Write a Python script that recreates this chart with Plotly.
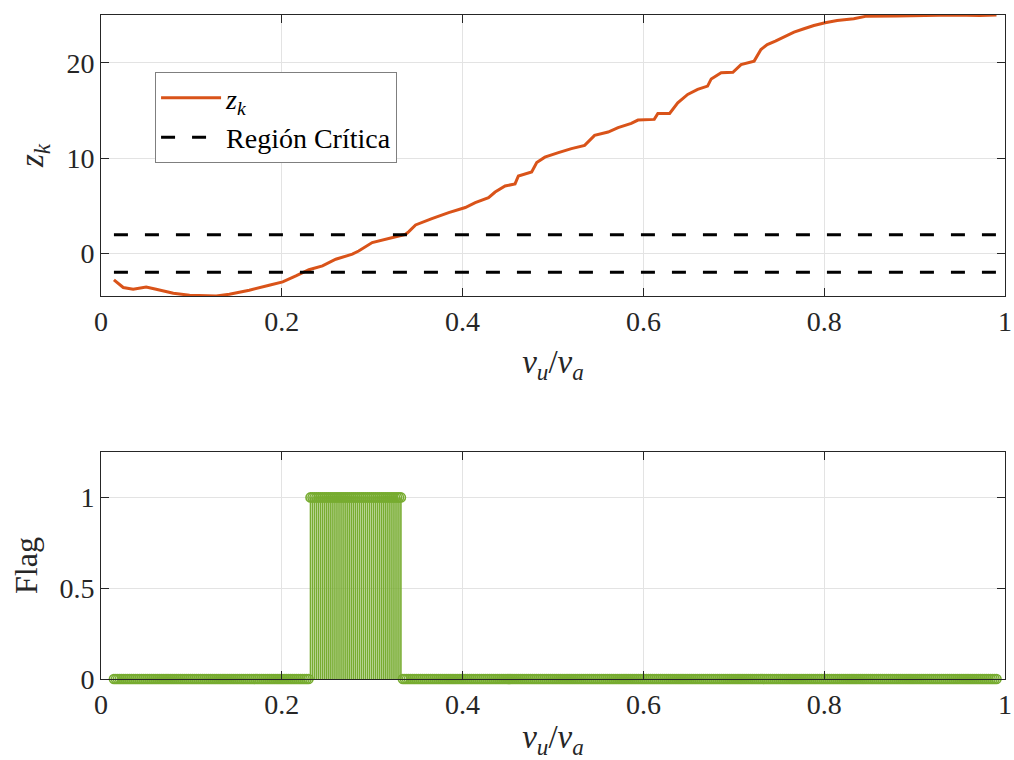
import numpy as np
import plotly.graph_objects as go
from plotly.subplots import make_subplots

# ---- data ----
zk_x = [0.0143, 0.0246, 0.0356, 0.050, 0.061, 0.080, 0.098, 0.116, 0.1275, 0.142,
        0.164, 0.186, 0.201, 0.2156, 0.230, 0.245, 0.2597, 0.278, 0.285, 0.300,
        0.3185, 0.337, 0.3405, 0.348, 0.366, 0.3846, 0.403, 0.414, 0.4287, 0.436,
        0.447, 0.458, 0.4617, 0.4764, 0.482, 0.491, 0.506, 0.5204, 0.535, 0.546,
        0.561, 0.572, 0.5866, 0.594, 0.612, 0.616, 0.629, 0.638, 0.649, 0.660,
        0.671, 0.675, 0.686, 0.699, 0.708, 0.7225, 0.730, 0.737, 0.746, 0.7556,
        0.7666, 0.7776, 0.7886, 0.801, 0.8143, 0.8327, 0.847, 0.880, 0.917, 0.943,
        0.972, 0.9906]
zk_y = [-2.76, -3.56, -3.74, -3.50, -3.74, -4.16, -4.37, -4.45, -4.45, -4.26,
        -3.84, -3.32, -2.97, -2.35, -1.70, -1.30, -0.60, -0.07, 0.27, 1.15,
        1.57, 2.02, 2.30, 3.00, 3.66, 4.29, 4.82, 5.34, 5.86, 6.45,
        7.08, 7.30, 8.13, 8.55, 9.53, 10.10, 10.57, 11.00, 11.34, 12.39,
        12.73, 13.19, 13.64, 13.99, 14.06, 14.69, 14.69, 15.80, 16.68, 17.20,
        17.55, 18.30, 18.95, 19.00, 19.80, 20.17, 21.39, 21.90, 22.26, 22.72,
        23.20, 23.56, 23.90, 24.19, 24.43, 24.60, 24.88, 24.90, 24.95, 25.00,
        24.95, 25.00]

critical_level = 1.96
x_start, x_end = 0.0143, 0.9906

# sampling grid of the Flag stem plot
n_samples = 450
flag_on_start, flag_on_end = 0.2303, 0.333

x_ticks = [0, 0.2, 0.4, 0.6, 0.8, 1]
x_tick_labels = ["0", "0.2", "0.4", "0.6", "0.8", "1"]
top_y_ticks = [0, 10, 20]
bot_y_ticks = [0, 0.5, 1]
bot_y_tick_labels = ["0", "0.5", "1"]

# ---- derived ----
flag_x = np.linspace(x_start, x_end, n_samples)
flag_y = np.where((flag_x >= flag_on_start) & (flag_x <= flag_on_end), 1.0, 0.0)

ORANGE = "#D95319"
GREEN = "#77AC30"
FONT = "Liberation Serif"
GRID = "#e3e3e3"
AXC = "#262626"

fig = make_subplots(rows=2, cols=1, vertical_spacing=0.0)

fig.add_trace(go.Scatter(x=zk_x, y=zk_y, mode="lines",
                         line=dict(color=ORANGE, width=3),
                         name="<i>z</i><sub><i>k</i></sub>"), row=1, col=1)
fig.add_trace(go.Scatter(x=[x_start, x_end, None, x_start, x_end],
                         y=[critical_level, critical_level, None, -critical_level, -critical_level],
                         mode="lines",
                         line=dict(color="black", width=3, dash="14px,17px"),
                         name="Región Crítica"), row=1, col=1)

# stems
sx, sy = [], []
for xv, yv in zip(flag_x, flag_y):
    sx += [xv, xv, None]
    sy += [0, yv, None]
fig.add_trace(go.Scatter(x=sx, y=sy, mode="lines", line=dict(color=GREEN, width=1.6),
                         showlegend=False, hoverinfo="skip"), row=2, col=1)
fig.add_trace(go.Scatter(x=flag_x, y=flag_y, mode="markers",
                         marker=dict(symbol="circle-open", size=9, color=GREEN,
                                     line=dict(width=1.6, color=GREEN)),
                         cliponaxis=False, showlegend=False), row=2, col=1)

axis_common = dict(showline=True, linecolor=AXC, linewidth=1, mirror="ticks",
                   ticks="inside", ticklen=8, tickcolor=AXC,
                   showgrid=True, gridcolor=GRID, gridwidth=1, zeroline=False,
                   ticklabeloverflow="allow", automargin=False,
                   tickfont=dict(family=FONT, size=28, color="#262626"))

xtitle = dict(text="<i>v</i><sub><i>u</i></sub>/<i>v</i><sub><i>a</i></sub>",
              font=dict(family=FONT, size=33, color="#262626"), standoff=14)

fig.update_xaxes(range=[0, 1], tickvals=x_ticks, ticktext=x_tick_labels, title=xtitle,
                 **axis_common)
fig.update_yaxes(**axis_common)
fig.update_yaxes(range=[-4.45, 25], tickvals=top_y_ticks,
                 title=dict(text="<i>z</i><sub><i>k</i></sub>",
                            font=dict(family=FONT, size=33, color="#262626"), standoff=12),
                 domain=[0.5768, 1.0], row=1, col=1)
fig.update_yaxes(range=[0, 1.25], tickvals=bot_y_ticks, ticktext=bot_y_tick_labels,
                 title=dict(text="Flag", font=dict(family=FONT, size=32, color="#262626"),
                            standoff=12),
                 domain=[0.0, 0.3419], row=2, col=1)

fig.update_layout(
    width=1014, height=760,
    margin=dict(l=101, r=9, t=15, b=81),
    paper_bgcolor="white", plot_bgcolor="white",
    font=dict(family=FONT, color="#262626"),
    legend=dict(x=0.0598, y=0.914, xanchor="left", yanchor="top",
                bgcolor="white", bordercolor="#7f7f7f", borderwidth=1,
                font=dict(family=FONT, size=28, color="black"),
                itemwidth=60, tracegroupgap=0),
)

fig.write_html("out.html")
